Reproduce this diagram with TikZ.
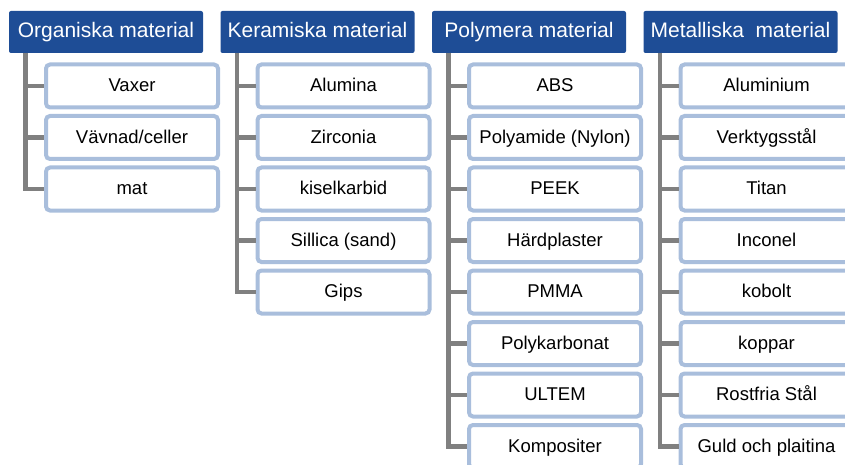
\documentclass[tikz,border=0pt]{standalone}
\usepackage{fontspec}
\setmainfont{Liberation Sans}
\usetikzlibrary{positioning}

\definecolor{hdrblue}{HTML}{1E4D96}
\definecolor{boxblue}{HTML}{A9BEDC}
\definecolor{treegray}{HTML}{808080}

\begin{document}
\begin{tikzpicture}[node distance=8.5pt,
  header/.style={fill=hdrblue,text=white,rounded corners=2pt,minimum width=194pt,
    minimum height=42pt,inner sep=0pt,outer sep=0pt,text height=15pt,text depth=3.5pt,
    font=\fontsize{21}{24}\selectfont},
  item/.style={draw=boxblue,line width=4pt,fill=white,rounded corners=4pt,minimum width=172pt,
    minimum height=43pt,inner sep=0pt,outer sep=0pt,text height=13.25pt,text depth=1.5pt,
    font=\fontsize{18.5}{22}\selectfont},
  branch/.style={draw=treegray,line width=4.5pt,shorten >=2pt,to path={(\tikztostart) |- (\tikztotarget)}}]
 \path[use as bounding box,clip] (0,0) rectangle (845pt,-465pt);

 % headers
 \node[header] (org) at (106pt,-32pt) {Organiska material};
 \node[header] (ker) [right=17.5pt of org] {Keramiska material};
 \node[header] (pol) [right=17.5pt of ker] {Polymera material};
 \node[header] (met) [right=17.5pt of pol] {Metalliska\ \ material};

 \coordinate[right=16.5pt of org.south west] (ot);
 \coordinate[right=16.5pt of ker.south west] (kt);
 \coordinate[right=16.5pt of pol.south west] (pt);
 \coordinate[right=16.5pt of met.south west] (mt);

 % organiska
 \node[item] (o1) [below right=11.5pt and 37pt of org.south west] {Vaxer};
 \node[item] (o2) [below=of o1] {Vävnad/celler};
 \node[item] (o3) [below=of o2] {mat};

 % keramiska
 \node[item] (k1) [below right=11.5pt and 37pt of ker.south west] {Alumina};
 \node[item] (k2) [below=of k1] {Zirconia};
 \node[item] (k3) [below=of k2] {kiselkarbid};
 \node[item] (k4) [below=of k3] {Sillica (sand)};
 \node[item] (k5) [below=of k4] {Gips};

 % polymera
 \node[item] (p1) [below right=11.5pt and 37pt of pol.south west] {ABS};
 \node[item] (p2) [below=of p1] {Polyamide (Nylon)};
 \node[item] (p3) [below=of p2] {PEEK};
 \node[item] (p4) [below=of p3] {Härdplaster};
 \node[item] (p5) [below=of p4] {PMMA};
 \node[item] (p6) [below=of p5] {Polykarbonat};
 \node[item] (p7) [below=of p6] {ULTEM};
 \node[item] (p8) [below=of p7] {Kompositer};

 % metalliska
 \node[item] (m1) [below right=11.5pt and 37pt of met.south west] {Aluminium};
 \node[item] (m2) [below=of m1] {Verktygsstål};
 \node[item] (m3) [below=of m2] {Titan};
 \node[item] (m4) [below=of m3] {Inconel};
 \node[item] (m5) [below=of m4] {kobolt};
 \node[item] (m6) [below=of m5] {koppar};
 \node[item] (m7) [below=of m6] {Rostfria Stål};
 \node[item] (m8) [below=of m7] {Guld och plaitina};

 \path (ot) edge [branch] (o1.west) edge [branch] (o2.west) edge [branch] (o3.west)
       (kt) edge [branch] (k1.west) edge [branch] (k2.west) edge [branch] (k3.west)
            edge [branch] (k4.west) edge [branch] (k5.west)
       (pt) edge [branch] (p1.west) edge [branch] (p2.west) edge [branch] (p3.west)
            edge [branch] (p4.west) edge [branch] (p5.west) edge [branch] (p6.west)
            edge [branch] (p7.west) edge [branch] (p8.west)
       (mt) edge [branch] (m1.west) edge [branch] (m2.west) edge [branch] (m3.west)
            edge [branch] (m4.west) edge [branch] (m5.west) edge [branch] (m6.west)
            edge [branch] (m7.west) edge [branch] (m8.west);
\end{tikzpicture}
\end{document}
